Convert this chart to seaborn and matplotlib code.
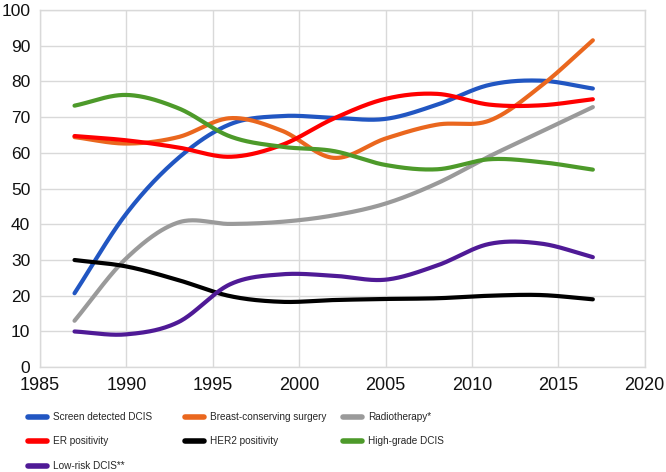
import numpy as np
import pandas as pd
import matplotlib
matplotlib.use('Agg')
import matplotlib.pyplot as plt
import seaborn as sns

#%%
# Values (percent), every 3 years

years = [1987, 1990, 1993, 1996, 1999, 2002, 2005, 2008, 2011, 2014, 2017]

screen_detected = [20.7, 43.0, 58.5, 68.0, 70.3, 69.8, 69.5, 73.5, 79.0, 80.2, 78.0]
breast_conserving = [64.4, 62.6, 64.4, 69.7, 66.2, 58.6, 64.0, 67.9, 69.0, 78.7, 91.5]
radiotherapy = [13.0, 30.5, 40.5, 40.1, 40.7, 42.5, 45.8, 51.5, 59.0, 65.9, 72.8]
er_positivity = [64.7, 63.5, 61.5, 58.9, 62.2, 69.6, 75.1, 76.5, 73.5, 73.3, 75.0]
her2_positivity = [30.0, 28.2, 24.4, 19.9, 18.3, 18.8, 19.1, 19.3, 20.0, 20.2, 19.0]
high_grade = [73.2, 76.2, 72.5, 64.6, 61.7, 60.5, 56.6, 55.4, 58.2, 57.4, 55.3]
low_risk = [10.0, 9.2, 12.6, 23.2, 26.0, 25.6, 24.5, 28.5, 34.5, 34.6, 30.8]

labels = ['Screen detected DCIS', 'Breast-conserving surgery', 'Radiotherapy*',
          'ER positivity', 'HER2 positivity', 'High-grade DCIS', 'Low-risk DCIS**']
colors = ['#2156c2', '#ea671e', '#9a9a9a', '#ff0000', '#000000', '#4d9a2a', '#4f1a96']
series = [screen_detected, breast_conserving, radiotherapy, er_positivity,
          her2_positivity, high_grade, low_risk]

#%%
# Excel-like smoothed line (Catmull-Rom through the read values)

def smooth(xs, ys, n=40):
    x = np.asarray(xs, float)
    y = np.asarray(ys, float)
    px = np.concatenate([[2 * x[0] - x[1]], x, [2 * x[-1] - x[-2]]])
    py = np.concatenate([[2 * y[0] - y[1]], y, [2 * y[-1] - y[-2]]])
    t = np.linspace(0, 1, n, endpoint=False)
    out_x, out_y = [], []
    for i in range(1, len(px) - 2):
        for p, out in ((px, out_x), (py, out_y)):
            p0, p1, p2, p3 = p[i - 1], p[i], p[i + 1], p[i + 2]
            seg = 0.5 * (2 * p1 + (-p0 + p2) * t
                         + (2 * p0 - 5 * p1 + 4 * p2 - p3) * t ** 2
                         + (-p0 + 3 * p1 - 3 * p2 + p3) * t ** 3)
            out.extend(seg)
    out_x.append(x[-1])
    out_y.append(y[-1])
    return out_x, out_y

frames = []
for label, vals in zip(labels, series):
    sx, sy = smooth(years, vals)
    frames.append(pd.DataFrame({'year': sx, 'value': sy, 'series': label}))
df = pd.concat(frames, ignore_index=True)

#%%

sns.set_style('white')
plt.rcParams['font.family'] = ['Liberation Sans', 'DejaVu Sans']

fig = plt.figure(figsize=(6.66, 4.72), dpi=100)
ax = fig.add_axes([0.060, 0.222, 0.908, 0.757])

sns.lineplot(data=df, x='year', y='value', hue='series', hue_order=labels,
             palette=dict(zip(labels, colors)), estimator=None, sort=False,
             linewidth=3, ax=ax)

ax.set_xlim(1985, 2020)
ax.set_ylim(0, 100)
ax.set_xticks(range(1985, 2021, 5))
ax.set_yticks(range(0, 101, 10))
ax.set_xlabel('')
ax.set_ylabel('')
ax.grid(True, color='#d9d9d9', linewidth=1)
ax.set_axisbelow(True)
for sp in ax.spines.values():
    sp.set_color('#d9d9d9')
    sp.set_linewidth(1)
ax.tick_params(axis='both', length=0, labelsize=13, colors='#111111')
ax.tick_params(axis='x', pad=7)
ax.tick_params(axis='y', labelsize=12.5, pad=7)

# Legend below the plot, three columns laid out like the original
handles, names = ax.get_legend_handles_labels()
ax.get_legend().remove()
lookup = dict(zip(names, handles))
columns = [
    (['Screen detected DCIS', 'ER positivity', 'Low-risk DCIS**'], 24),
    (['Breast-conserving surgery', 'HER2 positivity'], 181),
    (['Radiotherapy*', 'High-grade DCIS'], 339),
]
for col_labels, x_px in columns:
    hs = [lookup[l] for l in col_labels]
    leg = fig.legend(hs, col_labels, loc='upper left',
                     bbox_to_anchor=(x_px / 666, 1 - 408 / 472),
                     frameon=False, fontsize=7.2, handlelength=1.9,
                     handletextpad=0.6, labelspacing=1.45, borderaxespad=0)
    for line in leg.get_lines():
        line.set_linewidth(4)

fig.savefig('out.png', dpi=100)
